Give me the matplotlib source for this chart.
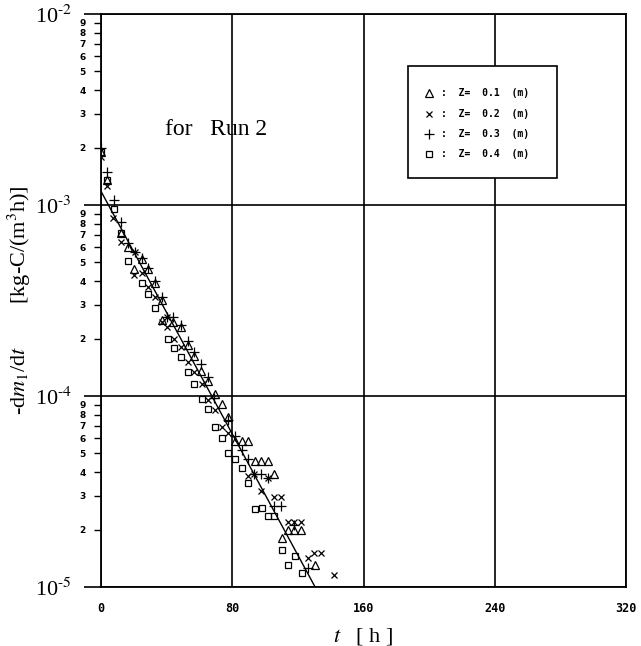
import numpy as np
import matplotlib
matplotlib.use('Agg')
import matplotlib.pyplot as plt
from matplotlib.patches import Rectangle

plt.rcParams['mathtext.fontset'] = 'stix'
plt.rcParams['font.family'] = ['Liberation Serif', 'DejaVu Sans']

# measured rates, -dm1/dt [kg-C/(m3 h)] vs t [h]
tri_t = [0, 3.7, 12.2, 16.5, 25, 20, 28.7, 33, 37.2, 37.2, 44, 48.8, 53, 56.7, 61,
         65.2, 69.5, 73.8, 77.4, 81.7, 86, 89.6, 94, 97.6, 101.8, 105.5, 110.4,
         114, 117.7, 122, 130.5]
tri_y = [1.9e-3, 1.35e-3, 7.1e-4, 6.0e-4, 5.2e-4, 4.6e-4, 4.6e-4, 3.9e-4, 3.2e-4,
         2.5e-4, 2.45e-4, 2.3e-4, 1.85e-4, 1.62e-4, 1.35e-4, 1.2e-4, 1.03e-4,
         9.1e-5, 7.8e-5, 5.8e-5, 5.8e-5, 5.8e-5, 4.55e-5, 4.55e-5, 4.55e-5,
         3.9e-5, 1.8e-5, 2.0e-5, 2.0e-5, 2.0e-5, 1.3e-5]

x_t = [0, 3.7, 7.3, 12.2, 20.7, 20, 25, 28.7, 33, 37.2, 40.2, 40.2, 44.5, 48.8,
       53, 56.7, 61.6, 65.2, 69.5, 73.8, 77.4, 89.6, 93.3, 101.8, 97.6, 105.5,
       109.8, 114, 117.7, 122, 126.2, 130, 134, 142]
x_y = [1.78e-3, 1.26e-3, 8.5e-4, 6.4e-4, 5.7e-4, 4.3e-4, 4.4e-4, 3.7e-4, 3.3e-4,
       2.45e-4, 2.6e-4, 2.3e-4, 2.0e-4, 1.8e-4, 1.5e-4, 1.33e-4, 1.15e-4, 9.5e-5,
       8.4e-5, 6.9e-5, 6.4e-5, 3.8e-5, 3.9e-5, 3.7e-5, 3.2e-5, 2.95e-5, 2.95e-5,
       2.2e-5, 2.2e-5, 2.2e-5, 1.42e-5, 1.5e-5, 1.5e-5, 1.15e-5]

plus_t = [0, 3.7, 7.9, 12.2, 16.5, 20.7, 25, 28.7, 33, 37.2, 40.2, 44, 48.8, 53,
          56.7, 61, 65.2, 69, 77.4, 81.7, 86, 89.6, 93.3, 97.6, 101.8, 105.5,
          109.8, 117.7, 126.2]
plus_y = [2.0e-3, 1.48e-3, 1.06e-3, 8.1e-4, 6.3e-4, 5.7e-4, 5.3e-4, 4.7e-4, 4.0e-4,
          3.3e-4, 2.6e-4, 2.6e-4, 2.35e-4, 1.95e-4, 1.7e-4, 1.47e-4, 1.25e-4,
          9.8e-5, 7.5e-5, 6.2e-5, 5.2e-5, 4.7e-5, 3.9e-5, 3.9e-5, 3.7e-5, 2.65e-5,
          2.65e-5, 2.1e-5, 1.26e-5]

sq_t = [0, 3.7, 7.9, 12.2, 16.5, 25, 28.7, 33, 40.9, 44.5, 48.8, 53, 56.7, 61.6,
        65.2, 69.5, 73.8, 77.4, 81.7, 86, 89.6, 93.9, 98.2, 101.8, 105.5, 110.4,
        118.3, 114, 122.6]
sq_y = [1.9e-3, 1.35e-3, 9.5e-4, 7.1e-4, 5.1e-4, 3.9e-4, 3.4e-4, 2.9e-4, 2.0e-4,
        1.78e-4, 1.6e-4, 1.33e-4, 1.15e-4, 9.6e-5, 8.6e-5, 6.9e-5, 6.0e-5, 5.0e-5,
        4.7e-5, 4.2e-5, 3.5e-5, 2.55e-5, 2.6e-5, 2.35e-5, 2.35e-5, 1.56e-5,
        1.45e-5, 1.3e-5, 1.18e-5]

# fitted line
fit_t = [0, 130.5]
fit_y = [1.18e-3, 1.0e-5]

legend_z = ['0.1', '0.2', '0.3', '0.4']
ylabels = ['10$^{\\text{-}5}$', '10$^{\\text{-}4}$', '10$^{\\text{-}3}$', '10$^{\\text{-}2}$']

fig = plt.figure(figsize=(6.41, 6.46), dpi=100)
ax = fig.add_axes([101/641, 1 - 587/646, 525/641, 573/646])

ax.set_yscale('log')
ax.set_xlim(0, 320)
ax.set_ylim(1e-5, 1e-2)

ax.plot(fit_t, fit_y, color='black', lw=1.0)

mk = dict(ls='none', color='black', mfc='none')
ax.plot(tri_t, tri_y, marker='^', ms=5.5, mew=0.9, **mk)
ax.plot(x_t, x_y, marker='x', ms=5, mew=0.9, **mk)
ax.plot(plus_t, plus_y, marker='+', ms=7, mew=0.9, **mk)
ax.plot(sq_t, sq_y, marker='s', ms=5, mew=0.9, **mk)

# axes / grid
ax.set_xticks([0, 80, 160, 240, 320], labels=['0', '80', '160', '240', '320'],
              fontfamily='DejaVu Sans Mono', fontweight='bold', fontsize=8.5)
ax.tick_params(axis='x', length=0, pad=11)

ax.set_yticks([1e-5, 1e-4, 1e-3, 1e-2], labels=ylabels, fontsize=16)
minor_vals = [m * 10.0**e for e in range(-5, -2) for m in range(2, 10)]
minor_labs = [str(m) for e in range(-5, -2) for m in range(2, 10)]
ax.set_yticks(minor_vals, labels=minor_labs, minor=True,
              fontfamily='DejaVu Sans', fontweight='bold', fontsize=6.5)
ax.tick_params(axis='y', which='major', length=12, width=1.2, pad=9)
ax.tick_params(axis='y', which='minor', length=5, width=1.0, pad=6)

ax.grid(True, which='major', color='black', lw=1.2)
for s in ax.spines.values():
    s.set_linewidth(1.3)

ax.set_xlabel('$t$   [ h ]', fontsize=16, labelpad=8)
ax.set_ylabel('-d$m_1$/d$t$        [kg-C/(m$^3$h)]', fontsize=16)
ax.yaxis.set_label_coords(-0.13, 0.5)

ax.text(0.122, 0.798, 'for   Run 2', transform=ax.transAxes, fontsize=17,
        ha='left', va='center')

# legend box
ax.add_patch(Rectangle((0.585, 0.714), 0.284, 0.195, transform=ax.transAxes,
                       facecolor='white', edgecolor='black', lw=1.2, zorder=5))
rows_y = [0.862, 0.826, 0.791, 0.755]
markers = [('^', 5.5), ('x', 5), ('+', 7), ('s', 5)]
for yy, (m, s), z in zip(rows_y, markers, legend_z):
    ax.plot([0.625], [yy], transform=ax.transAxes, marker=m, ms=s, mew=0.9,
            zorder=6, **mk)
    ax.text(0.648, yy, ':  Z=  ' + z + '  (m)', transform=ax.transAxes,
            fontfamily='DejaVu Sans Mono', fontweight='bold', fontsize=7,
            ha='left', va='center', zorder=6)

fig.savefig('out.png', dpi=100)
